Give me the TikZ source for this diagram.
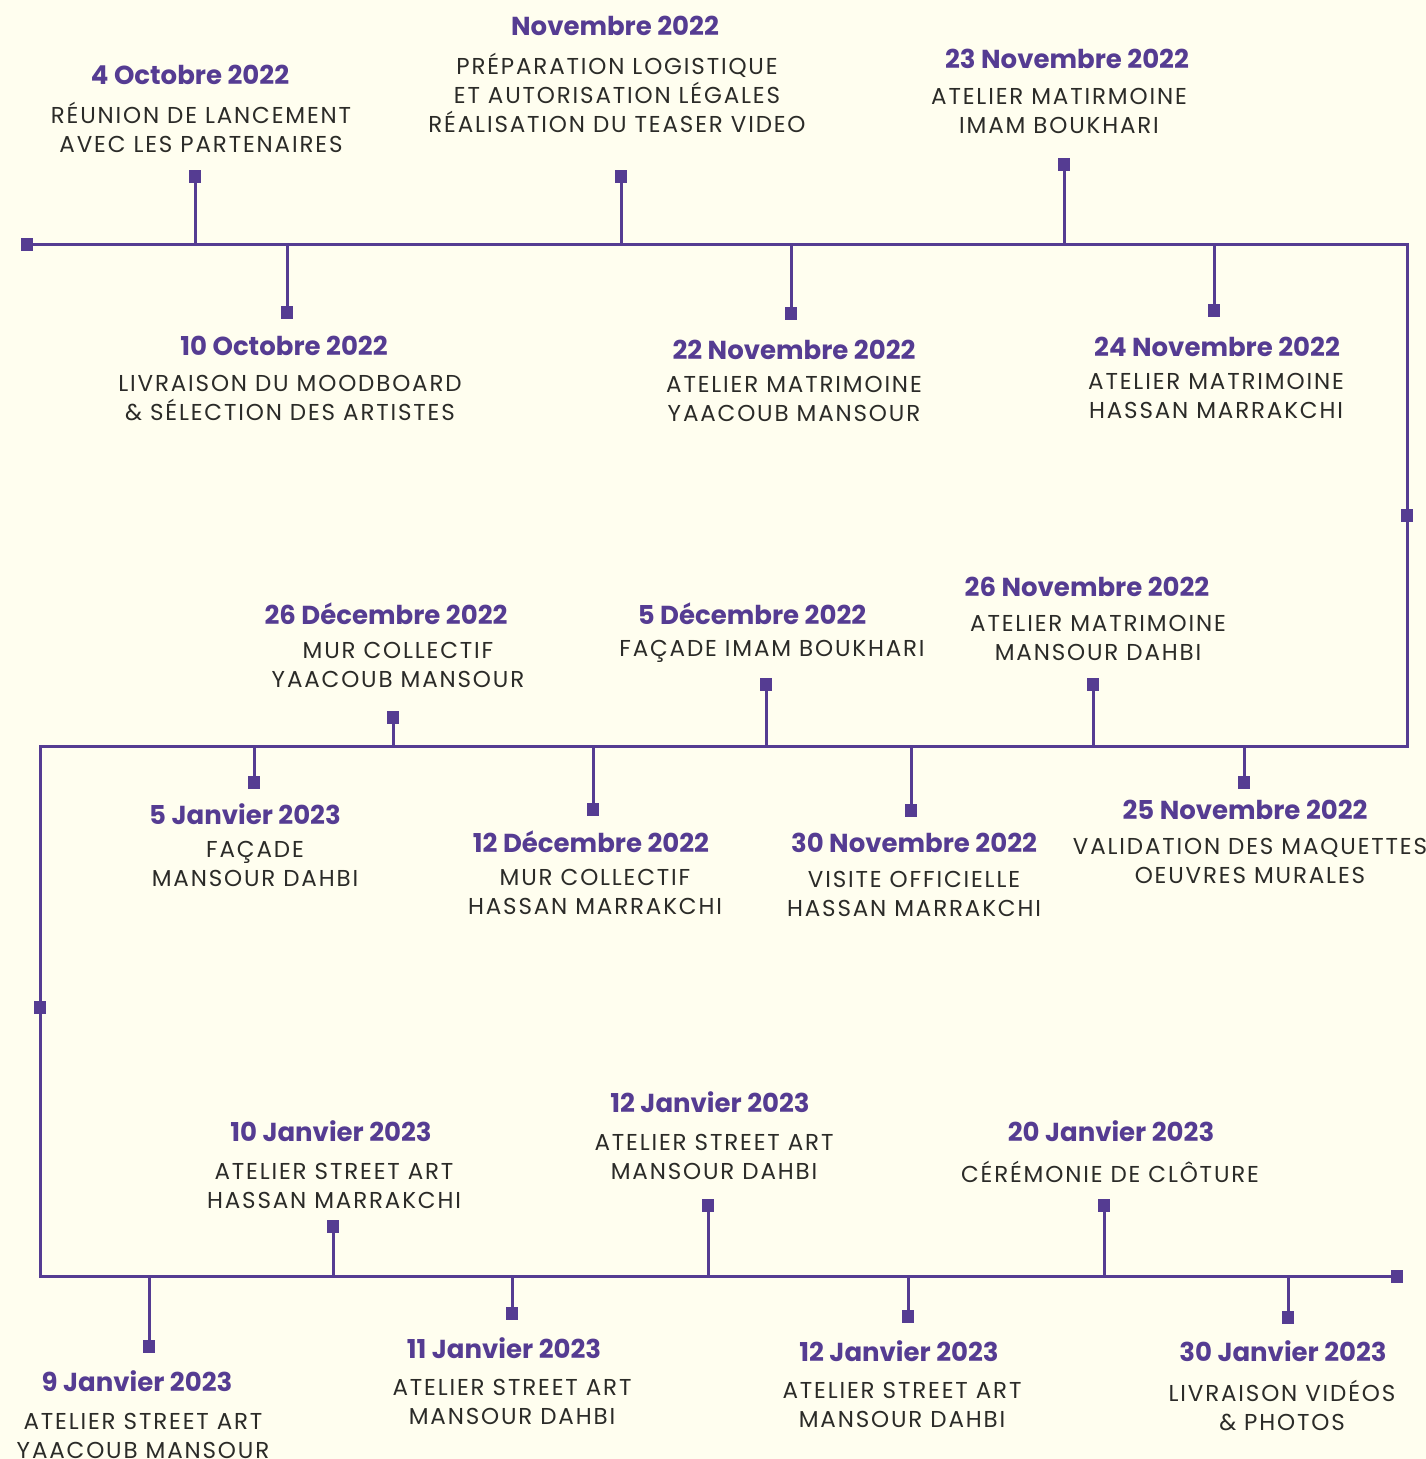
\documentclass[tikz,border=0pt]{standalone}
\usepackage{fontspec}
\setmainfont{Poppins}
\definecolor{plum}{HTML}{553C92}
\definecolor{ink}{HTML}{2B2B28}
\definecolor{paper}{HTML}{FFFEEF}
\tikzset{
    track/.style={plum, line width=3pt},
    pin/.style={rectangle, fill=plum, minimum width=12pt, minimum height=13pt, inner sep=0pt},
    when/.style={text=plum, inner sep=0pt, font=\fontsize{26}{30}\selectfont\bfseries},
    what/.style={text=ink, inner sep=0pt, align=center, font=\fontsize{23}{29}\selectfont\addfontfeature{LetterSpace=8}},
}

\begin{document}
\begin{tikzpicture}[x=1pt, y=-1pt]
        \fill [paper] (0,0) rectangle (1426,1459);
        \useasboundingbox (0,0) rectangle (1426,1459);

        % Track and its turns
        \node [pin] (start) at (27,244) {};
        \coordinate (turn1) at (1407,244);
        \node [pin] (half1) at (1407,515) {};
        \coordinate (turn2) at (1407,746);
        \coordinate (turn3) at (40,746);
        \node [pin] (half2) at (40,1007) {};
        \coordinate (turn4) at (40,1276);
        \node [pin] (finish) at (1397,1276) {};
        \draw [track] (start.center) -- (turn1) -- (turn2) -- (turn3) -- (turn4) -- (finish.center);

        % Row 1
        \coordinate (oct4) at (195,244);
        \node [pin] (oct4pin) at (195,176) {};
        \node [when] (oct4date) at (190,75) {4 Octobre 2022};
        \node [what] (oct4text) at (201,127) {RÉUNION DE LANCEMENT\\AVEC LES PARTENAIRES};
        \draw [track] (oct4) -- (oct4pin.center);

        \coordinate (oct10) at (287,244);
        \node [pin] (oct10pin) at (287,312) {};
        \node [when] (oct10date) at (284,346) {10 Octobre 2022};
        \node [what] (oct10text) at (290,398) {LIVRAISON DU MOODBOARD\\\& SÉLECTION DES ARTISTES};
        \draw [track] (oct10) -- (oct10pin.center);

        \coordinate (nov) at (621,244);
        \node [pin] (novpin) at (621,176) {};
        \node [when] (novdate) at (615,26) {Novembre 2022};
        \node [what] (novtext) at (617,93) {PRÉPARATION LOGISTIQUE\\ET AUTORISATION LÉGALES\\RÉALISATION DU TEASER VIDEO};
        \draw [track] (nov) -- (novpin.center);

        \coordinate (nov22) at (791,244);
        \node [pin] (nov22pin) at (791,313) {};
        \node [when] (nov22date) at (794,350) {22 Novembre 2022};
        \node [what] (nov22text) at (794,399) {ATELIER MATRIMOINE\\YAACOUB MANSOUR};
        \draw [track] (nov22) -- (nov22pin.center);

        \coordinate (nov23) at (1064,244);
        \node [pin] (nov23pin) at (1064,164) {};
        \node [when] (nov23date) at (1067,59) {23 Novembre 2022};
        \node [what] (nov23text) at (1059,111) {ATELIER MATIRMOINE\\IMAM BOUKHARI};
        \draw [track] (nov23) -- (nov23pin.center);

        \coordinate (nov24) at (1214,244);
        \node [pin] (nov24pin) at (1214,310) {};
        \node [when] (nov24date) at (1217,347) {24 Novembre 2022};
        \node [what] (nov24text) at (1216,396) {ATELIER MATRIMOINE\\HASSAN MARRAKCHI};
        \draw [track] (nov24) -- (nov24pin.center);

        % Row 2
        \coordinate (dec26) at (393,746);
        \node [pin] (dec26pin) at (393,717) {};
        \node [when] (dec26date) at (386,614) {26 Décembre 2022};
        \node [what] (dec26text) at (398,665) {MUR COLLECTIF\\YAACOUB MANSOUR};
        \draw [track] (dec26) -- (dec26pin.center);

        \coordinate (dec5) at (766,746);
        \node [pin] (dec5pin) at (766,684) {};
        \node [when] (dec5date) at (752,614) {5 Décembre 2022};
        \node [what] (dec5text) at (772,651) {FAÇADE IMAM BOUKHARI};
        \draw [track] (dec5) -- (dec5pin.center);

        \coordinate (nov26) at (1093,746);
        \node [pin] (nov26pin) at (1093,684) {};
        \node [when] (nov26date) at (1087,587) {26 Novembre 2022};
        \node [what] (nov26text) at (1098,638) {ATELIER MATRIMOINE\\MANSOUR DAHBI};
        \draw [track] (nov26) -- (nov26pin.center);

        \coordinate (jan5) at (254,746);
        \node [pin] (jan5pin) at (254,782) {};
        \node [when] (jan5date) at (245,814) {5 Janvier 2023};
        \node [what] (jan5text) at (255,864) {FAÇADE\\MANSOUR DAHBI};
        \draw [track] (jan5) -- (jan5pin.center);

        \coordinate (dec12) at (593,746);
        \node [pin] (dec12pin) at (593,809) {};
        \node [when] (dec12date) at (591,842) {12 Décembre 2022};
        \node [what] (dec12text) at (595,892) {MUR COLLECTIF\\HASSAN MARRAKCHI};
        \draw [track] (dec12) -- (dec12pin.center);

        \coordinate (nov30) at (911,746);
        \node [pin] (nov30pin) at (911,810) {};
        \node [when] (nov30date) at (914,843) {30 Novembre 2022};
        \node [what] (nov30text) at (914,894) {VISITE OFFICIELLE\\HASSAN MARRAKCHI};
        \draw [track] (nov30) -- (nov30pin.center);

        \coordinate (nov25) at (1244,746);
        \node [pin] (nov25pin) at (1244,782) {};
        \node [when] (nov25date) at (1245,810) {25 Novembre 2022};
        \node [what] (nov25text) at (1250,861) {VALIDATION DES MAQUETTES\\OEUVRES MURALES};
        \draw [track] (nov25) -- (nov25pin.center);

        % Row 3
        \coordinate (jan10) at (333,1276);
        \node [pin] (jan10pin) at (333,1226) {};
        \node [when] (jan10date) at (331,1131) {10 Janvier 2023};
        \node [what] (jan10text) at (334,1186) {ATELIER STREET ART\\HASSAN MARRAKCHI};
        \draw [track] (jan10) -- (jan10pin.center);

        \coordinate (jan12a) at (708,1276);
        \node [pin] (jan12apin) at (708,1205) {};
        \node [when] (jan12adate) at (710,1102) {12 Janvier 2023};
        \node [what] (jan12atext) at (714,1157) {ATELIER STREET ART\\MANSOUR DAHBI};
        \draw [track] (jan12a) -- (jan12apin.center);

        \coordinate (jan20) at (1104,1276);
        \node [pin] (jan20pin) at (1104,1205) {};
        \node [when] (jan20date) at (1111,1131) {20 Janvier 2023};
        \node [what] (jan20text) at (1110,1172) {CÉRÉMONIE DE CLÔTURE};
        \draw [track] (jan20) -- (jan20pin.center);

        \coordinate (jan9) at (149,1276);
        \node [pin] (jan9pin) at (149,1346) {};
        \node [when] (jan9date) at (137,1381) {9 Janvier 2023};
        \node [what] (jan9text) at (143,1436) {ATELIER STREET ART\\YAACOUB MANSOUR};
        \draw [track] (jan9) -- (jan9pin.center);

        \coordinate (jan11) at (512,1276);
        \node [pin] (jan11pin) at (512,1313) {};
        \node [when] (jan11date) at (504,1348) {11 Janvier 2023};
        \node [what] (jan11text) at (512,1402) {ATELIER STREET ART\\MANSOUR DAHBI};
        \draw [track] (jan11) -- (jan11pin.center);

        \coordinate (jan12b) at (908,1276);
        \node [pin] (jan12bpin) at (908,1316) {};
        \node [when] (jan12bdate) at (899,1351) {12 Janvier 2023};
        \node [what] (jan12btext) at (902,1405) {ATELIER STREET ART\\MANSOUR DAHBI};
        \draw [track] (jan12b) -- (jan12bpin.center);

        \coordinate (jan30) at (1288,1276);
        \node [pin] (jan30pin) at (1288,1317) {};
        \node [when] (jan30date) at (1283,1351) {30 Janvier 2023};
        \node [what] (jan30text) at (1282,1405) {LIVRAISON VIDÉOS\\\& PHOTOS};
        \draw [track] (jan30) -- (jan30pin.center);

    \end{tikzpicture}
\end{document}
